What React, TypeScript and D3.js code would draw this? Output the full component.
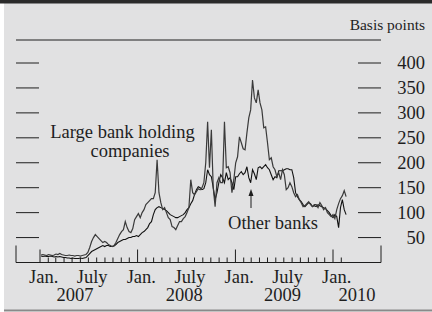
import React from "react";
import * as d3 from "d3";

// weekly readings (Fridays), Jan 5 2007 .. Feb 19 2010, basis points
const largeBHC = [
  15, 16, 15, 14, 16, 15, 14, 15, 17, 16,
  18, 16, 15, 14, 14, 15, 14, 14, 13, 14,
  14, 13, 14, 15, 16, 20, 30, 42, 50, 56,
  52, 48, 44, 40, 42, 40, 36, 34, 32, 34,
  40, 48, 56, 62, 66, 82, 70, 62, 60, 68,
  86, 92, 98, 90, 100, 106, 116, 120, 124, 128,
  128, 140, 206, 140, 120, 106, 110, 100, 90, 86,
  72, 70, 66, 74, 82, 82, 88, 92, 100, 110,
  166, 140, 136, 142, 148, 146, 150, 160, 200, 282,
  190, 266, 150, 112, 160, 170, 160, 160, 282, 190,
  192, 180, 140, 166, 200, 212, 252, 240, 228, 226,
  260, 290, 306, 366, 330, 320, 346, 320, 306, 270,
  272, 240, 206, 210, 192, 186, 172, 180, 166, 186,
  176, 146, 150, 160, 152, 140, 132, 136, 126, 120,
  112, 114, 118, 122, 116, 112, 116, 116, 110, 120,
  114, 106, 110, 100, 96, 92, 96, 88, 106, 118,
  128, 134, 144, 132,
];

const otherBanks = [
  13, 12, 13, 12, 12, 13, 12, 11, 12, 11,
  12, 11, 10, 10, 9, 9, 8, 9, 8, 8,
  8, 9, 8, 9, 10, 14, 18, 22, 24, 26,
  28, 30, 32, 34, 32, 34, 34, 32, 32, 33,
  36, 40, 42, 44, 46, 46, 48, 50, 50, 52,
  52, 54, 52, 56, 60, 62, 66, 70, 78, 82,
  96, 106, 110, 112, 110, 108, 106, 104, 100, 96,
  94, 92, 90, 90, 92, 94, 96, 100, 106, 110,
  118, 124, 136, 146, 152, 150, 146, 148, 160, 186,
  176, 172, 150, 126, 140, 160, 176, 170, 160, 180,
  166, 170, 160, 146, 172, 172, 178, 182, 176, 180,
  192, 170, 160, 186, 178, 166, 190, 192, 188, 192,
  196, 190, 186, 176, 166, 172, 170, 184, 184, 184,
  186, 188, 188, 186, 186, 170, 140, 132, 126, 122,
  116, 112, 116, 120, 118, 112, 114, 112, 116, 114,
  112, 110, 108, 104, 100, 94, 90, 96, 92, 70,
  110, 126, 106, 96,
];

const weeks = d3.timeFriday.range(new Date(2007, 0, 5), new Date(2010, 1, 20));

const yTicks = [50, 100, 150, 200, 250, 300, 350, 400];
const monthLabels = ["Jan.", "July", "Jan.", "July", "Jan.", "July", "Jan."];
const monthLabelDates = [
  new Date(2007, 0, 15), new Date(2007, 6, 15), new Date(2008, 0, 15),
  new Date(2008, 6, 15), new Date(2009, 0, 15), new Date(2009, 6, 15),
  new Date(2010, 0, 15),
];
const yearLabels = ["2007", "2008", "2009", "2010"];
const yearLabelDates = [
  new Date(2007, 4, 12), new Date(2008, 5, 24), new Date(2009, 5, 26), new Date(2010, 3, 1),
];

const W = 432;
const H = 312;
const LEFT = 16;
const RIGHT = 381;
const FONT = "'Liberation Serif', 'Times New Roman', serif";
const INK = "#1e1e1e";
const FS = 18.5;

const App = () => {
  const x = d3.scaleTime().domain([new Date(2007, 0, 1), new Date(2010, 0, 1)]).range([40, 333]);
  const y = d3.scaleLinear().domain([0, 400]).range([262.5, 63]);
  const base = y(0);

  const line = d3
    .line<number>()
    .x((d, i) => x(weeks[i]))
    .y((d) => y(d));

  const n = Math.min(weeks.length, largeBHC.length, otherBanks.length);
  const months = d3.timeMonth.range(new Date(2007, 0, 1), new Date(2010, 2, 1));

  return (
    <svg
      width={W}
      height={H}
      style={{ position: "fixed", left: 0, top: 0, display: "block" }}
      fontFamily={FONT}
    >
      <rect x={0} y={0} width={W} height={H} fill="#fff" />
      <rect x={4} y={3} width={W - 4} height={307} fill="#e1e1e2" />
      <rect x={0} y={0} width={W} height={3.5} fill="#2a2a2a" />
      <rect x={4} y={309.5} width={W - 4} height={2} fill="#8a8a8a" />

      <text x={425} y={30} textAnchor="end" fontSize={15.5} fill={INK}>
        Basis points
      </text>
      <line x1={LEFT} x2={RIGHT} y1={40} y2={40} stroke={INK} strokeWidth={1} />

      {yTicks.map((t) => (
        <g key={t}>
          <line x1={LEFT} x2={39} y1={y(t)} y2={y(t)} stroke={INK} strokeWidth={1} />
          <line x1={358} x2={RIGHT} y1={y(t)} y2={y(t)} stroke={INK} strokeWidth={1} />
          <text x={425} y={y(t) + 6} textAnchor="end" fontSize={FS} fill={INK}>
            {t}
          </text>
        </g>
      ))}

      {/* axis frame */}
      <line x1={LEFT} x2={RIGHT} y1={base} y2={base} stroke={INK} strokeWidth={1.2} />
      <line x1={LEFT} x2={LEFT} y1={base - 17} y2={base} stroke={INK} strokeWidth={1} />
      <line x1={RIGHT} x2={RIGHT} y1={base - 17} y2={base} stroke={INK} strokeWidth={1} />
      {months.map((m) => (
        <line
          key={+m}
          x1={x(m)}
          x2={x(m)}
          y1={base - (m.getMonth() === 0 ? 13 : 5)}
          y2={base}
          stroke={INK}
          strokeWidth={1}
        />
      ))}

      {monthLabels.map((t, i) => (
        <text key={i} x={x(monthLabelDates[i])} y={283} textAnchor="middle" fontSize={FS} fill={INK}>
          {t}
        </text>
      ))}
      {yearLabels.map((t, i) => (
        <text key={t} x={x(yearLabelDates[i])} y={301} textAnchor="middle" fontSize={FS} fill={INK}>
          {t}
        </text>
      ))}

      <path d={line(otherBanks.slice(0, n)) ?? ""} fill="none" stroke="#111" strokeWidth={1.1} />
      <path d={line(largeBHC.slice(0, n)) ?? ""} fill="none" stroke="#3a3a3a" strokeWidth={1.2} />

      {/* annotations */}
      <text x={122.5} y={138} textAnchor="middle" fontSize={FS} fill={INK}>
        Large bank holding
      </text>
      <text x={130} y={156.5} textAnchor="middle" fontSize={FS} fill={INK}>
        companies
      </text>
      <text x={273} y={229} textAnchor="middle" fontSize={FS} fill={INK}>
        Other banks
      </text>
      <line x1={251} x2={251} y1={208} y2={193} stroke={INK} strokeWidth={1} />
      <path d="M251,189 L248.5,196 L253.5,196 Z" fill={INK} />
    </svg>
  );
};

export default App;
